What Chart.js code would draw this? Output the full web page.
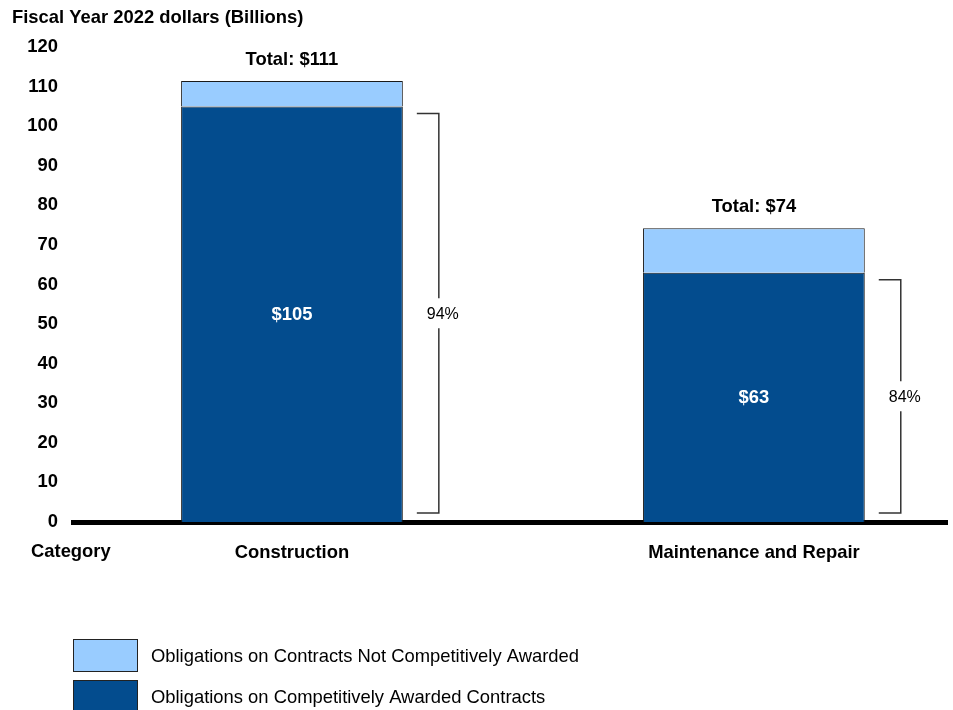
<!DOCTYPE html>
<html>
<head>
<meta charset="utf-8">
<script src="https://cdn.jsdelivr.net/npm/chart.js@4.4.1/dist/chart.umd.min.js"></script>
<style>
html, body { margin: 0; padding: 0; background: #fff; }
canvas { display: block; }
</style>
</head>
<body>
<canvas id="obligationsChart" width="953" height="710"></canvas>

<script>
// values (billions, FY2022 dollars)
const categories = ['Construction', 'Maintenance and Repair'];
const competitive = [105, 63];
const notCompetitive = [6.4, 11.2];
const totalLabels = ['Total: $111', 'Total: $74'];
const valueLabels = ['$105', '$63'];
const shareLabels = ['94%', '84%'];
const yTicks = [0, 10, 20, 30, 40, 50, 60, 70, 80, 90, 100, 110, 120];
const seriesNames = [
    'Obligations on Contracts Not Competitively Awarded',
    'Obligations on Competitively Awarded Contracts'
];

const DARK = '#034c8e';
const LIGHT = '#99ccff';
const FONT = 'Arial, "Liberation Sans", sans-serif';

const annotations = {
    id: 'annotations',
    afterDraw(chart) {
        const ctx = chart.ctx;
        const y = chart.scales.y;
        const darkBars = chart.getDatasetMeta(0).data;
        const lightBars = chart.getDatasetMeta(1).data;

        ctx.save();
        ctx.fillStyle = '#000';
        ctx.textBaseline = 'middle';
        ctx.textAlign = 'left';
        ctx.font = 'bold 18.4px ' + FONT;
        ctx.fillText('Fiscal Year 2022 dollars (Billions)', 12, 18);
        ctx.fillText('Category', 31, 552);

        categories.forEach((cat, i) => {
            const bar = darkBars[i];
            const top = lightBars[i];

            // value inside the bar
            ctx.fillStyle = '#fff';
            ctx.textAlign = 'center';
            ctx.font = 'bold 18.4px ' + FONT;
            ctx.fillText(valueLabels[i], bar.x, (bar.y + bar.base) / 2 + 1);

            // total above the stack
            ctx.fillStyle = '#000';
            ctx.fillText(totalLabels[i], top.x, top.y - 21);

            // bracket with share label
            const right = bar.x + bar.width / 2;
            const x1 = right + 14, x2 = right + 36;
            const yTop = y.getPixelForValue(competitive[i]) + 7;
            const yBot = y.getPixelForValue(0) - 9;
            const mid = (yTop + yBot) / 2;
            ctx.strokeStyle = '#333';
            ctx.lineWidth = 1.5;
            ctx.beginPath();
            ctx.moveTo(x1, yTop);
            ctx.lineTo(x2, yTop);
            ctx.lineTo(x2, mid - 15);
            ctx.moveTo(x2, mid + 15);
            ctx.lineTo(x2, yBot);
            ctx.lineTo(x1, yBot);
            ctx.stroke();

            ctx.fillStyle = '#000';
            ctx.font = '16px ' + FONT;
            ctx.fillText(shareLabels[i], x2 + 4, mid + 1);
        });

        // legend
        const legendItems = [
            { text: seriesNames[0], color: LIGHT, y: 639 },
            { text: seriesNames[1], color: DARK, y: 680 }
        ];
        ctx.textAlign = 'left';
        ctx.font = '18.4px ' + FONT;
        legendItems.forEach(item => {
            ctx.fillStyle = item.color;
            ctx.fillRect(73, item.y, 64, 32);
            ctx.strokeStyle = '#222';
            ctx.lineWidth = 1;
            ctx.strokeRect(73.5, item.y + 0.5, 64, 32);
            ctx.fillStyle = '#000';
            ctx.fillText(item.text, 151, item.y + 18);
        });
        ctx.restore();
    }
};

const ctx = document.getElementById('obligationsChart').getContext('2d');

new Chart(ctx, {
    type: 'bar',
    data: {
        datasets: [{
            label: seriesNames[1],
            data: competitive.map((v, i) => ({ x: i, y: v })),
            backgroundColor: DARK,
            borderColor: '#1a1a1a',
            borderWidth: 1,
            barPercentage: 0.48,
            categoryPercentage: 1
        }, {
            label: seriesNames[0],
            data: notCompetitive.map((v, i) => ({ x: i, y: v })),
            backgroundColor: LIGHT,
            borderColor: '#1a1a1a',
            borderWidth: 1,
            barPercentage: 0.48,
            categoryPercentage: 1
        }]
    },
    options: {
        responsive: false,
        animation: false,
        layout: { padding: { top: 47, left: 0, right: 6, bottom: 0 } },
        scales: {
            x: {
                type: 'linear',
                stacked: true,
                offset: false,
                min: -0.474,
                max: 1.418,
                z: 1,
                grid: { display: false, drawTicks: false },
                border: { display: true, color: '#000', width: 5 },
                afterBuildTicks: scale => {
                    scale.ticks = categories.map((c, i) => ({ value: i }));
                },
                afterFit: scale => { scale.height = 188; },
                ticks: {
                    padding: 20,
                    color: '#000',
                    font: { family: FONT, size: 18.4, weight: 'bold' },
                    callback: v => categories[v]
                }
            },
            y: {
                stacked: true,
                min: 0,
                max: 120,
                grid: { display: false, drawTicks: false },
                border: { display: false },
                afterBuildTicks: scale => {
                    scale.ticks = yTicks.map(v => ({ value: v }));
                },
                afterFit: scale => { scale.width = 73; },
                ticks: {
                    padding: 15,
                    color: '#000',
                    font: { family: FONT, size: 18.4, weight: 'bold' }
                }
            }
        },
        plugins: {
            legend: { display: false },
            tooltip: { enabled: false }
        }
    },
    plugins: [annotations]
});
</script>
</body>
</html>
